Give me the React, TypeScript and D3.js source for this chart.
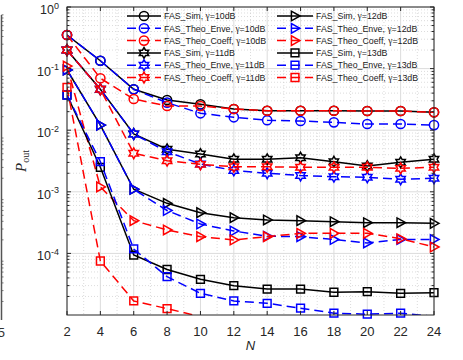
import React, { useEffect, useRef } from 'react';
import * as d3 from 'd3';

const N = [2, 4, 6, 8, 10, 12, 14, 16, 18, 20, 22, 24];

const sim10 = [0.351, 0.134, 0.0461, 0.0309, 0.0263, 0.0221, 0.0207, 0.0207, 0.0207, 0.0205, 0.0205, 0.0195];
const enve10 = [0.351, 0.134, 0.0461, 0.028, 0.0188, 0.0162, 0.0145, 0.0141, 0.0134, 0.0126, 0.0126, 0.0121];
const coeff10 = [0.351, 0.0696, 0.0321, 0.0247, 0.0247, 0.0221, 0.0207, 0.0207, 0.0207, 0.0205, 0.0205, 0.0195];

const sim11 = [0.2, 0.0461, 0.00867, 0.0049, 0.0041, 0.00337, 0.00337, 0.00358, 0.00308, 0.00262, 0.00301, 0.00337];
const enve11 = [0.2, 0.0461, 0.00867, 0.00448, 0.00283, 0.00222, 0.002, 0.00184, 0.00176, 0.00172, 0.0016, 0.00166];
const coeff11 = [0.2, 0.0461, 0.00422, 0.0032, 0.00279, 0.00255, 0.00255, 0.0025, 0.0025, 0.0025, 0.0024, 0.0025];

const sim12 = [0.095, 0.0121, 0.0011, 0.00065, 0.000458, 0.00038, 0.000349, 0.00034, 0.000327, 0.000315, 0.000315, 0.000308];
const enve12 = [0.095, 0.0121, 0.0011, 0.000497, 0.0003, 0.000231, 0.00019, 0.000187, 0.000168, 0.000148, 0.000168, 0.000168];
const coeff12 = [0.11, 0.0012, 0.00034, 0.00024, 0.000187, 0.000165, 0.000187, 0.000212, 0.000212, 0.000212, 0.000173, 0.000127];

const sim13 = [0.0373, 0.0025, 9.4e-5, 5.48e-5, 3.8e-5, 2.99e-5, 2.64e-5, 2.64e-5, 2.34e-5, 2.39e-5, 2.25e-5, 2.3e-5];
const enve13 = [0.0373, 0.00308, 1.18e-4, 4.19e-5, 2.25e-5, 1.69e-5, 1.55e-5, 1.29e-5, 1.07e-5, 1.03e-5, 1.07e-5, 9.5e-6];
const coeff13 = [0.0497, 7.53e-5, 1.69e-5, 1.27e-5, 9.4e-6, 8.5e-6, 8e-6, 7.5e-6, 7.2e-6, 7e-6, 6.8e-6, 6.6e-6];

const gammas = ['10', '11', '12', '13'];
const kinds = ['FAS_Sim', 'FAS_Theo_Enve', 'FAS_Theo_Coeff'];
const markers = ['o', 'h', '>', 's'];
const colors = ['#000000', '#0000ff', '#ff0000'];
const values = [
  [sim10, enve10, coeff10],
  [sim11, enve11, coeff11],
  [sim12, enve12, coeff12],
  [sim13, enve13, coeff13],
];
const yTickExp = [0, -1, -2, -3, -4];

const W = 463, H = 360;
const plot = { left: 67, right: 434, top: 7, bottom: 315 };

function markerPath(m: string): string {
  if (m === 'o') {
    const p = d3.path();
    p.arc(0, 0, 4.6, 0, 2 * Math.PI);
    return p.toString();
  }
  if (m === 's') return 'M-3.9,-3.9L3.9,-3.9L3.9,3.9L-3.9,3.9Z';
  if (m === '>') return 'M5,0L-3.6,-4.8L-3.6,4.8Z';
  // hexagram
  const pts: string[] = [];
  const R = 5.4, r = R / Math.sqrt(3);
  for (let k = 0; k < 12; k++) {
    const a = (-90 + k * 30) * Math.PI / 180;
    const rr = k % 2 === 0 ? R : r;
    pts.push(`${(rr * Math.cos(a)).toFixed(2)},${(rr * Math.sin(a)).toFixed(2)}`);
  }
  return 'M' + pts.join('L') + 'Z';
}

export default function App() {
  const ref = useRef<SVGSVGElement>(null);

  useEffect(() => {
    const svg = d3.select(ref.current);
    svg.selectAll('*').remove();

    const x = d3.scaleLinear().domain([2, 24]).range([plot.left, plot.right]);
    const y = d3.scaleLog().domain([1e-5, 1]).range([plot.bottom, plot.top]);

    const minorY: number[] = [];
    for (let e = -5; e < 0; e++) for (let m = 2; m <= 9; m++) minorY.push(m * Math.pow(10, e));
    const minorX = d3.range(3, 24, 2);

    // fragment of the neighbouring figure on the far left
    const frag = svg.append('g');
    frag.append('line').attr('x1', 1.5).attr('x2', 1.5).attr('y1', 15).attr('y2', 320)
      .attr('stroke', '#555').attr('stroke-width', 1.5);
    frag.selectAll('line.ft').data(minorY).enter().append('line')
      .attr('x1', 1.5).attr('x2', 3.5)
      .attr('y1', d => y(d) + 5).attr('y2', d => y(d) + 5)
      .attr('stroke', '#555').attr('stroke-width', 0.8);
    frag.append('text').attr('x', 5).attr('y', 337).attr('text-anchor', 'end')
      .attr('font-family', 'Liberation Sans, Arial, sans-serif').attr('font-size', 13)
      .attr('fill', '#333').text('5');

    const grid = svg.append('g');
    grid.selectAll('.my').data(minorY).enter().append('line')
      .attr('x1', plot.left).attr('x2', plot.right)
      .attr('y1', d => y(d)).attr('y2', d => y(d))
      .attr('stroke', '#c4c4c4').attr('stroke-width', 0.6).attr('stroke-dasharray', '1,2');
    grid.selectAll('.mx').data(minorX).enter().append('line')
      .attr('y1', plot.top).attr('y2', plot.bottom)
      .attr('x1', d => x(d)).attr('x2', d => x(d))
      .attr('stroke', '#c4c4c4').attr('stroke-width', 0.6).attr('stroke-dasharray', '1,2');
    grid.selectAll('.gy').data(yTickExp).enter().append('line')
      .attr('x1', plot.left).attr('x2', plot.right)
      .attr('y1', d => y(Math.pow(10, d))).attr('y2', d => y(Math.pow(10, d)))
      .attr('stroke', '#dcdcdc').attr('stroke-width', 1);
    grid.selectAll('.gx').data(N).enter().append('line')
      .attr('y1', plot.top).attr('y2', plot.bottom)
      .attr('x1', d => x(d)).attr('x2', d => x(d))
      .attr('stroke', '#dcdcdc').attr('stroke-width', 1);

    // data
    svg.append('clipPath').attr('id', 'clip').append('rect')
      .attr('x', plot.left).attr('y', plot.top)
      .attr('width', plot.right - plot.left).attr('height', plot.bottom - plot.top);

    const line = d3.line<number>().x((d, i) => x(N[i])).y(d => y(d));
    const series: { vals: number[]; color: string; dash: boolean; marker: string; label: string; g: string }[] = [];
    gammas.forEach((g, gi) => {
      kinds.forEach((k, ki) => {
        series.push({ vals: values[gi][ki], color: colors[ki], dash: ki > 0, marker: markers[gi], label: k, g });
      });
    });

    const data = svg.append('g');
    series.forEach(s => {
      data.append('path').attr('d', line(s.vals) as string)
        .attr('clip-path', 'url(#clip)')
        .attr('fill', 'none').attr('stroke', s.color).attr('stroke-width', 1.5)
        .attr('stroke-dasharray', s.dash ? '9,5' : null);
      data.selectAll(null).data(s.vals.map((v, i) => [N[i], v]).filter(d => d[1] >= 1e-5)).enter()
        .append('path')
        .attr('transform', d => `translate(${x(d[0])},${y(d[1])})`)
        .attr('d', markerPath(s.marker))
        .attr('fill', 'none').attr('stroke', s.color).attr('stroke-width', 1.5);
    });

    // axes box and ticks
    const axisColor = '#262626';
    const ax = svg.append('g');
    ax.append('rect').attr('x', plot.left).attr('y', plot.top)
      .attr('width', plot.right - plot.left).attr('height', plot.bottom - plot.top)
      .attr('fill', 'none').attr('stroke', axisColor).attr('stroke-width', 1);
    N.forEach(n => {
      ax.append('line').attr('x1', x(n)).attr('x2', x(n)).attr('y1', plot.bottom).attr('y2', plot.bottom - 4).attr('stroke', axisColor);
      ax.append('line').attr('x1', x(n)).attr('x2', x(n)).attr('y1', plot.top).attr('y2', plot.top + 4).attr('stroke', axisColor);
    });
    yTickExp.forEach(e => {
      const yy = y(Math.pow(10, e));
      ax.append('line').attr('x1', plot.left).attr('x2', plot.left + 4).attr('y1', yy).attr('y2', yy).attr('stroke', axisColor);
      ax.append('line').attr('x1', plot.right).attr('x2', plot.right - 4).attr('y1', yy).attr('y2', yy).attr('stroke', axisColor);
    });
    minorY.forEach(v => {
      const yy = y(v);
      ax.append('line').attr('x1', plot.left).attr('x2', plot.left + 2.5).attr('y1', yy).attr('y2', yy).attr('stroke', axisColor);
      ax.append('line').attr('x1', plot.right).attr('x2', plot.right - 2.5).attr('y1', yy).attr('y2', yy).attr('stroke', axisColor);
    });

    const font = 'Liberation Sans, Arial, Helvetica, sans-serif';
    ax.selectAll('.xt').data(N).enter().append('text')
      .attr('x', d => x(d)).attr('y', 336).attr('text-anchor', 'middle')
      .attr('font-family', font).attr('font-size', 13).attr('fill', axisColor)
      .text(d => d);
    yTickExp.forEach(e => {
      const t = ax.append('text').attr('x', 59).attr('y', y(Math.pow(10, e)) + 7)
        .attr('text-anchor', 'end').attr('font-family', font).attr('font-size', 12.5).attr('fill', axisColor);
      t.append('tspan').text('10');
      t.append('tspan').attr('dy', -5.5).attr('font-size', 9).text(String(e));
    });

    ax.append('text').attr('x', (plot.left + plot.right) / 2).attr('y', 350)
      .attr('text-anchor', 'middle').attr('font-family', font).attr('font-style', 'italic')
      .attr('font-size', 13).attr('fill', axisColor).text('N');

    const yl = ax.append('text').attr('transform', `translate(26,${(plot.top + plot.bottom) / 2}) rotate(-90)`)
      .attr('text-anchor', 'middle').attr('font-family', 'Liberation Serif, Times New Roman, serif')
      .attr('font-size', 15).attr('fill', axisColor);
    yl.append('tspan').attr('font-style', 'italic').text('P');
    yl.append('tspan').attr('dy', 3).attr('font-size', 10).text('out');

    // legend
    const lg = svg.append('g');
    series.forEach((s, i) => {
      const col = i < 6 ? 0 : 1;
      const row = i % 6;
      const ly = 16 + row * 12.3;
      const x0 = col ? 277 : 127, x1 = col ? 313 : 161, tx = col ? 316 : 164;
      lg.append('line').attr('x1', x0).attr('x2', x1).attr('y1', ly).attr('y2', ly)
        .attr('stroke', s.color).attr('stroke-width', 1.5)
        .attr('stroke-dasharray', s.dash ? '9,5' : null);
      lg.append('path').attr('transform', `translate(${(x0 + x1) / 2},${ly})`)
        .attr('d', markerPath(s.marker)).attr('fill', 'none')
        .attr('stroke', s.color).attr('stroke-width', 1.5);
      const t = lg.append('text').attr('x', tx).attr('y', ly + 3.2)
        .attr('font-family', font).attr('font-size', 8.8).attr('fill', '#1a1a1a');
      t.append('tspan').text(`${s.label}, `);
      t.append('tspan').attr('font-family', 'Liberation Serif, serif').attr('font-size', 9.5).text('γ');
      t.append('tspan').text(`=${s.g}dB`);
    });
  }, []);

  return (
    <div>
      <svg ref={ref} width={W} height={H} style={{ position: 'absolute', left: 0, top: 0, background: '#fff' }} />
    </div>
  );
}
